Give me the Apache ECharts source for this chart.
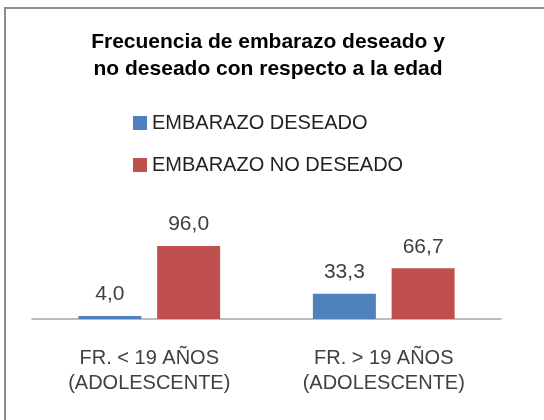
<!DOCTYPE html>
<html><head><meta charset="utf-8">
<script src="https://cdn.jsdelivr.net/npm/echarts@6/dist/echarts.min.js"></script>
<style>html,body{margin:0;padding:0;background:#fff}#c{width:544px;height:420px}</style>
</head><body><div id="c"></div>
<script>
const categories = ['FR. < 19 AÑOS\n(ADOLESCENTE)', 'FR. > 19 AÑOS\n(ADOLESCENTE)'];
const seriesNames = ['EMBARAZO DESEADO', 'EMBARAZO NO DESEADO'];
const deseado = [4.0, 33.3];
const noDeseado = [96.0, 66.7];
const titleText = 'Frecuencia de embarazo deseado y\nno deseado con respecto a la edad';

const font = 'Liberation Sans';
const chart = echarts.init(document.getElementById('c'));
const lbl = {show:true, position:'top', distance:11, color:'#404040', fontSize:21, fontFamily:font,
  formatter: p => p.value.toFixed(1).replace('.', ',')};
chart.setOption({
  animation:false,
  graphic:[{type:'rect', shape:{x:5, y:8, width:600, height:500}, style:{fill:'none', stroke:'#8c8c8c', lineWidth:2}}],
  title:{text:titleText, left:263, textAlign:'center', top:24,
    textStyle:{fontFamily:font, fontSize:21, fontWeight:'bold', color:'#000', lineHeight:27}},
  legend:{orient:'vertical', left:128, top:108, itemWidth:14, itemHeight:14, itemGap:22,
    icon:'rect', textStyle:{fontFamily:font, fontSize:20, color:'#222'}},
  grid:{left:32, right:43, top:243, bottom:101},
  xAxis:{type:'category', data:categories, axisTick:{show:false},
    axisLine:{lineStyle:{color:'#a6a6a6', width:1.5}},
    axisLabel:{fontFamily:font, fontSize:20, color:'#404040', lineHeight:25, margin:27}},
  yAxis:{type:'value', min:0, max:100, show:false, splitLine:{show:false}},
  series:[
    {name:seriesNames[0], type:'bar', data:deseado, barWidth:63, barGap:'25%', itemStyle:{color:'#4f81bd'}, label:lbl},
    {name:seriesNames[1], type:'bar', data:noDeseado, barWidth:63, barGap:'25%', itemStyle:{color:'#c0504d'}, label:lbl}
  ]
});
</script></body></html>
